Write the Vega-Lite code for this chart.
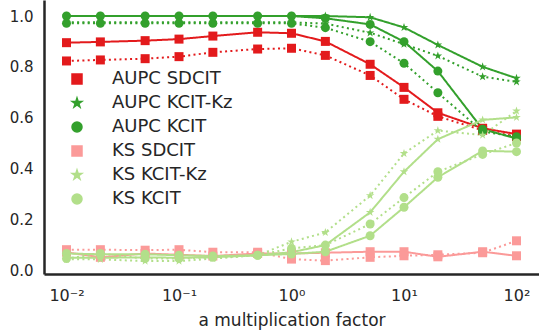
{
  "$schema": "https://vega.github.io/schema/vega-lite/v6.json",
  "width": 495,
  "height": 274,
  "autosize": {"type": "none"},
  "padding": {"left": 44, "top": 0, "right": 0, "bottom": 59},
  "background": "white",
  "config": {
    "view": {"stroke": null},
    "font": "DejaVu Sans"
  },
  "datasets": {
    "pts": [
      {"series": "AUPC SDCIT", "variant": "solid", "x": 0.01, "v": 0.895},
      {"series": "AUPC SDCIT", "variant": "solid", "x": 0.02, "v": 0.898},
      {"series": "AUPC SDCIT", "variant": "solid", "x": 0.05, "v": 0.903},
      {"series": "AUPC SDCIT", "variant": "solid", "x": 0.1, "v": 0.909},
      {"series": "AUPC SDCIT", "variant": "solid", "x": 0.2, "v": 0.921},
      {"series": "AUPC SDCIT", "variant": "solid", "x": 0.5, "v": 0.936},
      {"series": "AUPC SDCIT", "variant": "solid", "x": 1, "v": 0.932},
      {"series": "AUPC SDCIT", "variant": "solid", "x": 2, "v": 0.9},
      {"series": "AUPC SDCIT", "variant": "solid", "x": 5, "v": 0.81},
      {"series": "AUPC SDCIT", "variant": "solid", "x": 10, "v": 0.719},
      {"series": "AUPC SDCIT", "variant": "solid", "x": 20, "v": 0.619},
      {"series": "AUPC SDCIT", "variant": "solid", "x": 50, "v": 0.558},
      {"series": "AUPC SDCIT", "variant": "solid", "x": 100, "v": 0.535},
      {"series": "AUPC SDCIT", "variant": "dotted", "x": 0.01, "v": 0.823},
      {"series": "AUPC SDCIT", "variant": "dotted", "x": 0.02, "v": 0.827},
      {"series": "AUPC SDCIT", "variant": "dotted", "x": 0.05, "v": 0.832},
      {"series": "AUPC SDCIT", "variant": "dotted", "x": 0.1, "v": 0.84},
      {"series": "AUPC SDCIT", "variant": "dotted", "x": 0.2, "v": 0.857},
      {"series": "AUPC SDCIT", "variant": "dotted", "x": 0.5, "v": 0.87},
      {"series": "AUPC SDCIT", "variant": "dotted", "x": 1, "v": 0.873},
      {"series": "AUPC SDCIT", "variant": "dotted", "x": 2, "v": 0.845},
      {"series": "AUPC SDCIT", "variant": "dotted", "x": 5, "v": 0.766},
      {"series": "AUPC SDCIT", "variant": "dotted", "x": 10, "v": 0.672},
      {"series": "AUPC SDCIT", "variant": "dotted", "x": 20, "v": 0.605},
      {"series": "AUPC SDCIT", "variant": "dotted", "x": 50, "v": 0.55},
      {"series": "AUPC SDCIT", "variant": "dotted", "x": 100, "v": 0.525},

      {"series": "AUPC KCIT-Kᴢ", "variant": "solid", "x": 0.01, "v": 1.0},
      {"series": "AUPC KCIT-Kᴢ", "variant": "solid", "x": 0.02, "v": 1.0},
      {"series": "AUPC KCIT-Kᴢ", "variant": "solid", "x": 0.05, "v": 1.0},
      {"series": "AUPC KCIT-Kᴢ", "variant": "solid", "x": 0.1, "v": 1.0},
      {"series": "AUPC KCIT-Kᴢ", "variant": "solid", "x": 0.2, "v": 1.0},
      {"series": "AUPC KCIT-Kᴢ", "variant": "solid", "x": 0.5, "v": 1.0},
      {"series": "AUPC KCIT-Kᴢ", "variant": "solid", "x": 1, "v": 1.0},
      {"series": "AUPC KCIT-Kᴢ", "variant": "solid", "x": 2, "v": 1.0},
      {"series": "AUPC KCIT-Kᴢ", "variant": "solid", "x": 5, "v": 0.995},
      {"series": "AUPC KCIT-Kᴢ", "variant": "solid", "x": 10, "v": 0.955},
      {"series": "AUPC KCIT-Kᴢ", "variant": "solid", "x": 20, "v": 0.886},
      {"series": "AUPC KCIT-Kᴢ", "variant": "solid", "x": 50, "v": 0.8},
      {"series": "AUPC KCIT-Kᴢ", "variant": "solid", "x": 100, "v": 0.755},
      {"series": "AUPC KCIT-Kᴢ", "variant": "dotted", "x": 0.01, "v": 0.975},
      {"series": "AUPC KCIT-Kᴢ", "variant": "dotted", "x": 0.02, "v": 0.975},
      {"series": "AUPC KCIT-Kᴢ", "variant": "dotted", "x": 0.05, "v": 0.975},
      {"series": "AUPC KCIT-Kᴢ", "variant": "dotted", "x": 0.1, "v": 0.975},
      {"series": "AUPC KCIT-Kᴢ", "variant": "dotted", "x": 0.2, "v": 0.975},
      {"series": "AUPC KCIT-Kᴢ", "variant": "dotted", "x": 0.5, "v": 0.975},
      {"series": "AUPC KCIT-Kᴢ", "variant": "dotted", "x": 1, "v": 0.975},
      {"series": "AUPC KCIT-Kᴢ", "variant": "dotted", "x": 2, "v": 0.97},
      {"series": "AUPC KCIT-Kᴢ", "variant": "dotted", "x": 5, "v": 0.934},
      {"series": "AUPC KCIT-Kᴢ", "variant": "dotted", "x": 10, "v": 0.889},
      {"series": "AUPC KCIT-Kᴢ", "variant": "dotted", "x": 20, "v": 0.843},
      {"series": "AUPC KCIT-Kᴢ", "variant": "dotted", "x": 50, "v": 0.761},
      {"series": "AUPC KCIT-Kᴢ", "variant": "dotted", "x": 100, "v": 0.741},

      {"series": "AUPC KCIT", "variant": "solid", "x": 0.01, "v": 1.0},
      {"series": "AUPC KCIT", "variant": "solid", "x": 0.02, "v": 1.0},
      {"series": "AUPC KCIT", "variant": "solid", "x": 0.05, "v": 1.0},
      {"series": "AUPC KCIT", "variant": "solid", "x": 0.1, "v": 1.0},
      {"series": "AUPC KCIT", "variant": "solid", "x": 0.2, "v": 1.0},
      {"series": "AUPC KCIT", "variant": "solid", "x": 0.5, "v": 1.0},
      {"series": "AUPC KCIT", "variant": "solid", "x": 1, "v": 1.0},
      {"series": "AUPC KCIT", "variant": "solid", "x": 2, "v": 0.991},
      {"series": "AUPC KCIT", "variant": "solid", "x": 5, "v": 0.967},
      {"series": "AUPC KCIT", "variant": "solid", "x": 10, "v": 0.899},
      {"series": "AUPC KCIT", "variant": "solid", "x": 20, "v": 0.783},
      {"series": "AUPC KCIT", "variant": "solid", "x": 50, "v": 0.554},
      {"series": "AUPC KCIT", "variant": "solid", "x": 100, "v": 0.518},
      {"series": "AUPC KCIT", "variant": "dotted", "x": 0.01, "v": 0.971},
      {"series": "AUPC KCIT", "variant": "dotted", "x": 0.02, "v": 0.971},
      {"series": "AUPC KCIT", "variant": "dotted", "x": 0.05, "v": 0.971},
      {"series": "AUPC KCIT", "variant": "dotted", "x": 0.1, "v": 0.971},
      {"series": "AUPC KCIT", "variant": "dotted", "x": 0.2, "v": 0.971},
      {"series": "AUPC KCIT", "variant": "dotted", "x": 0.5, "v": 0.971},
      {"series": "AUPC KCIT", "variant": "dotted", "x": 1, "v": 0.971},
      {"series": "AUPC KCIT", "variant": "dotted", "x": 2, "v": 0.954},
      {"series": "AUPC KCIT", "variant": "dotted", "x": 5, "v": 0.899},
      {"series": "AUPC KCIT", "variant": "dotted", "x": 10, "v": 0.814},
      {"series": "AUPC KCIT", "variant": "dotted", "x": 20, "v": 0.698},
      {"series": "AUPC KCIT", "variant": "dotted", "x": 50, "v": 0.545},
      {"series": "AUPC KCIT", "variant": "dotted", "x": 100, "v": 0.525},

      {"series": "KS SDCIT", "variant": "solid", "x": 0.01, "v": 0.07},
      {"series": "KS SDCIT", "variant": "solid", "x": 0.02, "v": 0.05},
      {"series": "KS SDCIT", "variant": "solid", "x": 0.05, "v": 0.065},
      {"series": "KS SDCIT", "variant": "solid", "x": 0.1, "v": 0.06},
      {"series": "KS SDCIT", "variant": "solid", "x": 0.2, "v": 0.055},
      {"series": "KS SDCIT", "variant": "solid", "x": 0.5, "v": 0.065},
      {"series": "KS SDCIT", "variant": "solid", "x": 1, "v": 0.065},
      {"series": "KS SDCIT", "variant": "solid", "x": 2, "v": 0.068},
      {"series": "KS SDCIT", "variant": "solid", "x": 5, "v": 0.072},
      {"series": "KS SDCIT", "variant": "solid", "x": 10, "v": 0.072},
      {"series": "KS SDCIT", "variant": "solid", "x": 20, "v": 0.052},
      {"series": "KS SDCIT", "variant": "solid", "x": 50, "v": 0.072},
      {"series": "KS SDCIT", "variant": "solid", "x": 100, "v": 0.056},
      {"series": "KS SDCIT", "variant": "dotted", "x": 0.01, "v": 0.08},
      {"series": "KS SDCIT", "variant": "dotted", "x": 0.02, "v": 0.08},
      {"series": "KS SDCIT", "variant": "dotted", "x": 0.05, "v": 0.078},
      {"series": "KS SDCIT", "variant": "dotted", "x": 0.1, "v": 0.08},
      {"series": "KS SDCIT", "variant": "dotted", "x": 0.2, "v": 0.07},
      {"series": "KS SDCIT", "variant": "dotted", "x": 0.5, "v": 0.07},
      {"series": "KS SDCIT", "variant": "dotted", "x": 1, "v": 0.043},
      {"series": "KS SDCIT", "variant": "dotted", "x": 2, "v": 0.037},
      {"series": "KS SDCIT", "variant": "dotted", "x": 5, "v": 0.05},
      {"series": "KS SDCIT", "variant": "dotted", "x": 10, "v": 0.056},
      {"series": "KS SDCIT", "variant": "dotted", "x": 20, "v": 0.06},
      {"series": "KS SDCIT", "variant": "dotted", "x": 50, "v": 0.068},
      {"series": "KS SDCIT", "variant": "dotted", "x": 100, "v": 0.115},

      {"series": "KS KCIT-Kᴢ", "variant": "solid", "x": 0.01, "v": 0.048},
      {"series": "KS KCIT-Kᴢ", "variant": "solid", "x": 0.02, "v": 0.048},
      {"series": "KS KCIT-Kᴢ", "variant": "solid", "x": 0.05, "v": 0.05},
      {"series": "KS KCIT-Kᴢ", "variant": "solid", "x": 0.1, "v": 0.048},
      {"series": "KS KCIT-Kᴢ", "variant": "solid", "x": 0.2, "v": 0.05},
      {"series": "KS KCIT-Kᴢ", "variant": "solid", "x": 0.5, "v": 0.058},
      {"series": "KS KCIT-Kᴢ", "variant": "solid", "x": 1, "v": 0.07},
      {"series": "KS KCIT-Kᴢ", "variant": "solid", "x": 2, "v": 0.098},
      {"series": "KS KCIT-Kᴢ", "variant": "solid", "x": 5, "v": 0.227},
      {"series": "KS KCIT-Kᴢ", "variant": "solid", "x": 10, "v": 0.387},
      {"series": "KS KCIT-Kᴢ", "variant": "solid", "x": 20, "v": 0.515},
      {"series": "KS KCIT-Kᴢ", "variant": "solid", "x": 50, "v": 0.591},
      {"series": "KS KCIT-Kᴢ", "variant": "solid", "x": 100, "v": 0.601},
      {"series": "KS KCIT-Kᴢ", "variant": "dotted", "x": 0.01, "v": 0.042},
      {"series": "KS KCIT-Kᴢ", "variant": "dotted", "x": 0.02, "v": 0.042},
      {"series": "KS KCIT-Kᴢ", "variant": "dotted", "x": 0.05, "v": 0.035},
      {"series": "KS KCIT-Kᴢ", "variant": "dotted", "x": 0.1, "v": 0.035},
      {"series": "KS KCIT-Kᴢ", "variant": "dotted", "x": 0.2, "v": 0.045},
      {"series": "KS KCIT-Kᴢ", "variant": "dotted", "x": 0.5, "v": 0.058},
      {"series": "KS KCIT-Kᴢ", "variant": "dotted", "x": 1, "v": 0.111},
      {"series": "KS KCIT-Kᴢ", "variant": "dotted", "x": 2, "v": 0.148},
      {"series": "KS KCIT-Kᴢ", "variant": "dotted", "x": 5, "v": 0.293},
      {"series": "KS KCIT-Kᴢ", "variant": "dotted", "x": 10, "v": 0.459},
      {"series": "KS KCIT-Kᴢ", "variant": "dotted", "x": 20, "v": 0.549},
      {"series": "KS KCIT-Kᴢ", "variant": "dotted", "x": 50, "v": 0.531},
      {"series": "KS KCIT-Kᴢ", "variant": "dotted", "x": 100, "v": 0.626},

      {"series": "KS KCIT", "variant": "solid", "x": 0.01, "v": 0.065},
      {"series": "KS KCIT", "variant": "solid", "x": 0.02, "v": 0.062},
      {"series": "KS KCIT", "variant": "solid", "x": 0.05, "v": 0.062},
      {"series": "KS KCIT", "variant": "solid", "x": 0.1, "v": 0.058},
      {"series": "KS KCIT", "variant": "solid", "x": 0.2, "v": 0.055},
      {"series": "KS KCIT", "variant": "solid", "x": 0.5, "v": 0.058},
      {"series": "KS KCIT", "variant": "solid", "x": 1, "v": 0.063},
      {"series": "KS KCIT", "variant": "solid", "x": 2, "v": 0.072},
      {"series": "KS KCIT", "variant": "solid", "x": 5, "v": 0.135},
      {"series": "KS KCIT", "variant": "solid", "x": 10, "v": 0.247},
      {"series": "KS KCIT", "variant": "solid", "x": 20, "v": 0.365},
      {"series": "KS KCIT", "variant": "solid", "x": 50, "v": 0.469},
      {"series": "KS KCIT", "variant": "solid", "x": 100, "v": 0.466},
      {"series": "KS KCIT", "variant": "dotted", "x": 0.01, "v": 0.045},
      {"series": "KS KCIT", "variant": "dotted", "x": 0.02, "v": 0.065},
      {"series": "KS KCIT", "variant": "dotted", "x": 0.05, "v": 0.045},
      {"series": "KS KCIT", "variant": "dotted", "x": 0.1, "v": 0.045},
      {"series": "KS KCIT", "variant": "dotted", "x": 0.2, "v": 0.05},
      {"series": "KS KCIT", "variant": "dotted", "x": 0.5, "v": 0.058},
      {"series": "KS KCIT", "variant": "dotted", "x": 1, "v": 0.085},
      {"series": "KS KCIT", "variant": "dotted", "x": 2, "v": 0.098},
      {"series": "KS KCIT", "variant": "dotted", "x": 5, "v": 0.181},
      {"series": "KS KCIT", "variant": "dotted", "x": 10, "v": 0.285},
      {"series": "KS KCIT", "variant": "dotted", "x": 20, "v": 0.387},
      {"series": "KS KCIT", "variant": "dotted", "x": 50, "v": 0.455},
      {"series": "KS KCIT", "variant": "dotted", "x": 100, "v": 0.5}
    ]
  },
  "data": {"name": "pts"},
  "encoding": {
    "x": {
      "field": "x", "type": "quantitative",
      "scale": {"type": "log", "domain": [0.0063096, 158.489], "nice": false},
      "axis": {
        "values": [0.01, 0.1, 1, 10, 100],
        "labelExpr": "datum.value < 0.05 ? '10⁻²' : datum.value < 0.5 ? '10⁻¹' : datum.value < 5 ? '10⁰' : datum.value < 50 ? '10¹' : '10²'",
        "grid": false, "ticks": false,
        "domainColor": "#262626", "domainWidth": 2.5,
        "labelFont": "DejaVu Sans", "labelFontSize": 16, "labelColor": "#262626", "labelPadding": 13,
        "title": "a multiplication factor",
        "titleFont": "DejaVu Sans", "titleFontSize": 17, "titleFontWeight": "normal", "titleColor": "#262626", "titlePadding": 9
      }
    },
    "y": {
      "field": "v", "type": "quantitative",
      "scale": {"domain": [-0.0157, 1.063], "nice": false, "zero": false},
      "axis": {
        "values": [0, 0.2, 0.4, 0.6, 0.8, 1.0],
        "format": ".1f",
        "grid": false, "ticks": false,
        "domainColor": "#262626", "domainWidth": 2.5,
        "labelFont": "DejaVu Sans", "labelFontSize": 15, "labelColor": "#262626", "labelPadding": 11,
        "title": null
      }
    },
    "color": {
      "field": "series", "type": "nominal",
      "scale": {
        "domain": ["AUPC SDCIT", "AUPC KCIT-Kᴢ", "AUPC KCIT", "KS SDCIT", "KS KCIT-Kᴢ", "KS KCIT"],
        "range": ["#e31a1c", "#33a02c", "#33a02c", "#fb9a99", "#b2df8a", "#b2df8a"]
      },
      "legend": {
        "title": null,
        "orient": "none",
        "legendX": 24,
        "legendY": 70,
        "padding": 0,
        "labelFont": "DejaVu Sans",
        "labelFontSize": 18,
        "labelColor": "#262626",
        "labelOffset": 26,
        "symbolSize": 100,
        "rowPadding": 6
      }
    }
  },
  "layer": [
    {
      "mark": {"type": "line", "strokeWidth": 2},
      "encoding": {
        "strokeDash": {
          "field": "variant", "type": "nominal",
          "scale": {"domain": ["solid", "dotted"], "range": [[1, 0], [2, 3.3]]},
          "legend": null
        }
      }
    },
    {
      "mark": {"type": "point", "filled": true, "opacity": 1, "size": 81},
      "encoding": {
        "shape": {
          "field": "series", "type": "nominal",
          "scale": {
            "domain": ["AUPC SDCIT", "AUPC KCIT-Kᴢ", "AUPC KCIT", "KS SDCIT", "KS KCIT-Kᴢ", "KS KCIT"],
            "range": [
              "M-1,-1H1V1H-1Z",
              "M0,-1L0.2245,-0.309L0.951,-0.309L0.363,0.118L0.588,0.809L0,0.382L-0.588,0.809L-0.363,0.118L-0.951,-0.309L-0.2245,-0.309Z",
              "circle",
              "M-1,-1H1V1H-1Z",
              "M0,-1L0.2245,-0.309L0.951,-0.309L0.363,0.118L0.588,0.809L0,0.382L-0.588,0.809L-0.363,0.118L-0.951,-0.309L-0.2245,-0.309Z",
              "circle"
            ]
          },
          "legend": null
        }
      }
    }
  ]
}
